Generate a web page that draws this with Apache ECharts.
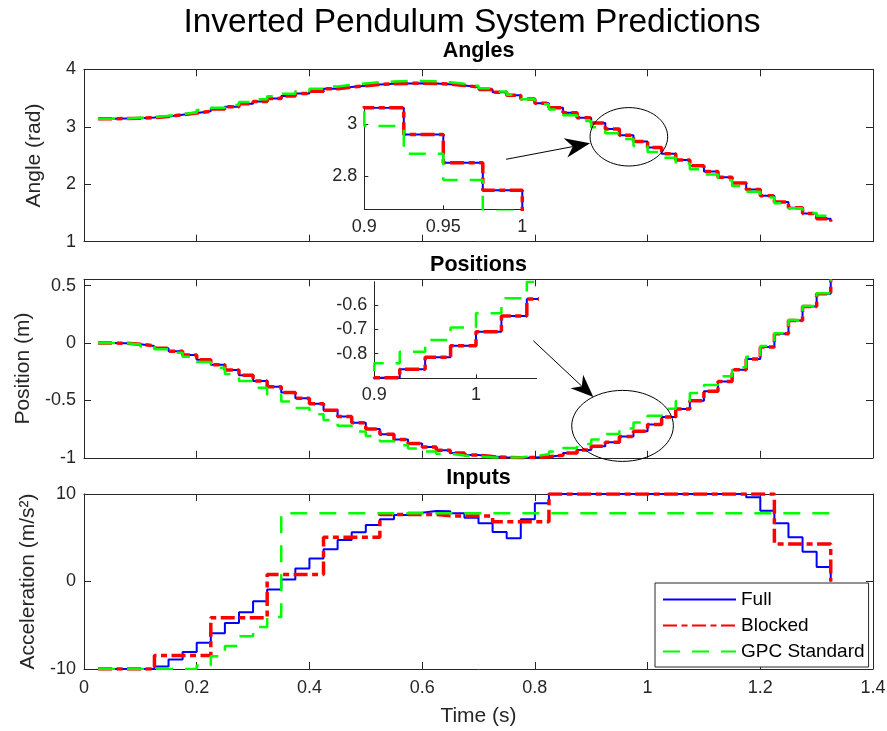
<!DOCTYPE html>
<html>
<head>
<meta charset="utf-8">
<script src="https://cdn.jsdelivr.net/npm/echarts@6/dist/echarts.min.js"></script>
<style>
  html, body { margin: 0; padding: 0; background: #ffffff; }
  #chart { width: 887px; height: 731px; }
</style>
</head>
<body>
<div id="chart"></div>
<script>
// Sample instants of the prediction horizon (s)
const timeSteps = [0.025, 0.05, 0.075, 0.1, 0.125, 0.15, 0.175, 0.2, 0.225, 0.25,
  0.275, 0.3, 0.325, 0.35, 0.375, 0.4, 0.425, 0.45, 0.475, 0.5,
  0.525, 0.55, 0.575, 0.6, 0.625, 0.65, 0.675, 0.7, 0.725, 0.75,
  0.775, 0.8, 0.825, 0.85, 0.875, 0.9, 0.925, 0.95, 0.975, 1.0,
  1.025, 1.05, 1.075, 1.1, 1.125, 1.15, 1.175, 1.2, 1.225, 1.25,
  1.275, 1.3, 1.325];

// Pendulum angle (rad)
const angleFull = [3.14, 3.145, 3.15, 3.16, 3.18, 3.21, 3.24, 3.27, 3.31, 3.35,
  3.40, 3.44, 3.49, 3.535, 3.58, 3.62, 3.66, 3.69, 3.715, 3.735,
  3.748, 3.755, 3.757, 3.752, 3.74, 3.72, 3.69, 3.65, 3.60, 3.55,
  3.485, 3.41, 3.33, 3.245, 3.155, 3.064, 2.961, 2.851, 2.745, 2.64,
  2.53, 2.42, 2.32, 2.22, 2.12, 2.02, 1.91, 1.80, 1.69, 1.59,
  1.49, 1.40, 1.35];
const angleBlocked = [3.14, 3.145, 3.15, 3.16, 3.18, 3.21, 3.24, 3.27, 3.31, 3.35,
  3.40, 3.44, 3.49, 3.535, 3.58, 3.62, 3.66, 3.69, 3.715, 3.735,
  3.748, 3.755, 3.757, 3.752, 3.74, 3.72, 3.69, 3.65, 3.60, 3.55,
  3.485, 3.41, 3.33, 3.245, 3.155, 3.064, 2.961, 2.851, 2.745, 2.64,
  2.53, 2.42, 2.32, 2.22, 2.12, 2.02, 1.91, 1.80, 1.69, 1.59,
  1.49, 1.40, 1.35];
const angleGPC = [3.14, 3.145, 3.155, 3.165, 3.19, 3.22, 3.25, 3.29, 3.33, 3.38,
  3.43, 3.48, 3.53, 3.575, 3.62, 3.66, 3.70, 3.73, 3.755, 3.775,
  3.788, 3.795, 3.795, 3.79, 3.775, 3.75, 3.715, 3.67, 3.615, 3.555,
  3.48, 3.39, 3.30, 3.20, 3.10, 2.993, 2.886, 2.785, 2.665, 2.56,
  2.46, 2.36, 2.26, 2.17, 2.07, 1.97, 1.87, 1.77, 1.67, 1.58,
  1.50, 1.45, 1.47];

// Cart position (m)
const positionFull = [0, -0.002, -0.01, -0.025, -0.045, -0.072, -0.105, -0.145, -0.19, -0.235,
  -0.28, -0.33, -0.38, -0.43, -0.48, -0.53, -0.585, -0.64, -0.695, -0.75,
  -0.795, -0.84, -0.875, -0.905, -0.935, -0.958, -0.976, -0.988, -0.996, -0.999,
  -0.998, -0.99, -0.977, -0.958, -0.932, -0.899, -0.864, -0.815, -0.768, -0.71,
  -0.645, -0.575, -0.503, -0.42, -0.334, -0.233, -0.14, -0.035, 0.081, 0.197,
  0.319, 0.43, 0.55];
const positionBlocked = [0, -0.002, -0.01, -0.025, -0.045, -0.072, -0.105, -0.145, -0.19, -0.235,
  -0.28, -0.33, -0.38, -0.43, -0.48, -0.53, -0.585, -0.64, -0.695, -0.75,
  -0.795, -0.84, -0.875, -0.905, -0.935, -0.958, -0.976, -0.988, -0.996, -0.999,
  -0.998, -0.99, -0.977, -0.958, -0.932, -0.899, -0.864, -0.815, -0.768, -0.71,
  -0.645, -0.575, -0.503, -0.42, -0.334, -0.233, -0.14, -0.035, 0.081, 0.197,
  0.319, 0.43, 0.55];
const positionGPC = [0, -0.002, -0.012, -0.03, -0.055, -0.085, -0.12, -0.165, -0.215, -0.27,
  -0.33, -0.39, -0.45, -0.51, -0.565, -0.62, -0.67, -0.72, -0.77, -0.81,
  -0.855, -0.89, -0.92, -0.945, -0.965, -0.98, -0.99, -0.996, -0.998, -0.995,
  -0.985, -0.968, -0.945, -0.915, -0.88, -0.84, -0.792, -0.744, -0.693, -0.634,
  -0.572, -0.504, -0.435, -0.365, -0.29, -0.21, -0.12, -0.025, 0.085, 0.2,
  0.322, 0.435, 0.555];

// Cart acceleration input (m/s^2)
const inputFull = [-10, -10, -10, -10, -9.7, -8.9, -8.07, -7.0, -5.9, -4.75,
  -3.52, -2.26, -0.92, 0.23, 1.49, 2.64, 3.70, 4.74, 5.62, 6.46,
  7.11, 7.60, 7.87, 8.06, 8.03, 7.8, 7.3, 6.65, 5.65, 4.93,
  7.11, 8.94, 10, 10, 10, 10, 10, 10, 10, 10,
  10, 10, 10, 10, 10, 10, 9.63, 8.1, 6.65, 5.05,
  3.40, 1.67, 0];
const inputBlocked = [-10, -10, -10, -10, -8.45, -8.45, -8.45, -8.45, -4.13, -4.13,
  -4.13, -4.13, 0.8, 0.8, 0.8, 0.8, 5.05, 5.05, 5.05, 5.05,
  7.65, 7.65, 7.65, 7.65, 7.5, 7.5, 7.5, 7.5, 6.84, 6.84,
  6.84, 6.84, 10, 10, 10, 10, 10, 10, 10, 10,
  10, 10, 10, 10, 10, 10, 10, 10, 4.28, 4.28,
  4.28, 4.28, 0];
const inputGPC = [-10, -10, -10, -10, -10, -10, -10, -9.6, -8.53, -7.38,
  -6.27, -5.2, -4.06, 7.8, 7.8, 7.8, 7.8, 7.8, 7.8, 7.8,
  7.8, 7.8, 7.8, 7.8, 7.8, 7.8, 7.8, 7.8, 7.8, 7.8,
  7.8, 7.8, 7.8, 7.8, 7.8, 7.8, 7.8, 7.8, 7.8, 7.8,
  7.8, 7.8, 7.8, 7.8, 7.8, 7.8, 7.8, 7.8, 7.8, 7.8,
  7.8, 7.8, 7.8];

// Tick labels
const timeTicks = [0, 0.2, 0.4, 0.6, 0.8, 1, 1.2, 1.4];
const angleTicks = [1, 2, 3, 4];
const positionTicks = [-1, -0.5, 0, 0.5];
const inputTicks = [-10, 0, 10];
const angleZoomTimeTicks = [0.9, 0.95, 1];
const angleZoomTicks = [2.8, 3];
const positionZoomTimeTicks = [0.9, 1];
const positionZoomTicks = [-0.8, -0.7, -0.6];

const FONT = '"Liberation Sans", Arial, Helvetica, sans-serif';
const AX = '#262626';

const lineLook = {
  'Full':         { color: '#0000ff', width: 2,   type: 'solid',            z: 2 },
  'Blocked':      { color: '#ff0000', width: 3.5, type: [14, 4.5, 6, 4.5],  z: 3 },
  'GPC Standard': { color: '#00ff00', width: 2.5, type: [17, 12],           z: 4 }
};

function stairs(name, values, xIdx, yIdx) {
  const s = lineLook[name];
  return {
    type: 'line', name: name, step: 'end',
    xAxisIndex: xIdx, yAxisIndex: yIdx,
    data: timeSteps.map((t, i) => [t, values[i]]),
    symbol: 'none', showSymbol: false, clip: true, animation: false,
    z: s.z,
    lineStyle: { color: s.color, width: s.width, type: s.type, cap: 'butt' },
    itemStyle: { color: s.color }
  };
}

function axis(gridIndex, position, min, max, ticks, o) {
  o = o || {};
  const a = {
    type: 'value', gridIndex: gridIndex, position: position, min: min, max: max,
    axisLine: { show: true, onZero: false, lineStyle: { color: AX, width: 1 } },
    axisTick: { show: true, inside: true, length: o.tickLen || 7, customValues: ticks,
                lineStyle: { color: AX, width: 1 } },
    axisLabel: { show: !!o.labels, customValues: ticks, color: AX, fontSize: 18,
                 fontFamily: FONT, margin: o.margin || 8 },
    splitLine: { show: false }
  };
  if (o.name) {
    a.name = o.name;
    a.nameLocation = 'middle';
    a.nameGap = o.nameGap;
    a.nameTextStyle = { fontSize: 21, color: AX, fontFamily: FONT };
  }
  return a;
}

const chart = echarts.init(document.getElementById('chart'), null, { renderer: 'canvas' });

const option = {
  backgroundColor: '#ffffff',
  animation: false,
  grid: [
    { left: 84, right: 14, top: 69.3, height: 172.4, outerBoundsMode: 'none' },
    { left: 84, right: 14, top: 279.3, height: 178.5, outerBoundsMode: 'none' },
    { left: 84, right: 14, top: 494, height: 175, outerBoundsMode: 'none' },
    { left: 364.3, width: 158, top: 107.7, height: 101.6, outerBoundsMode: 'none' },
    { left: 374.3, width: 162.4, top: 281.7, height: 96.6, outerBoundsMode: 'none' }
  ],
  xAxis: [
    axis(0, 'bottom', 0, 1.4, timeTicks),
    axis(0, 'top', 0, 1.4, timeTicks),
    axis(1, 'bottom', 0, 1.4, timeTicks),
    axis(1, 'top', 0, 1.4, timeTicks),
    axis(2, 'bottom', 0, 1.4, timeTicks, { labels: true, margin: 10, name: 'Time (s)', nameGap: 37 }),
    axis(2, 'top', 0, 1.4, timeTicks),
    axis(3, 'bottom', 0.9, 1.0, angleZoomTimeTicks, { labels: true, tickLen: 4, margin: 9 }),
    axis(4, 'bottom', 0.9, 1.0597, positionZoomTimeTicks, { labels: true, tickLen: 4, margin: 8 })
  ],
  yAxis: [
    axis(0, 'left', 1, 4, angleTicks, { labels: true, margin: 8, name: 'Angle (rad)', nameGap: 39 }),
    axis(0, 'right', 1, 4, angleTicks),
    axis(1, 'left', -1, 0.5556, positionTicks, { labels: true, margin: 8, name: 'Position (m)', nameGap: 39 }),
    axis(1, 'right', -1, 0.5556, positionTicks),
    axis(2, 'left', -10, 10, inputTicks, { labels: true, margin: 8, name: 'Acceleration (m/s²)', nameGap: 39 }),
    axis(2, 'right', -10, 10, inputTicks),
    axis(3, 'left', 2.6712, 3.0642, angleZoomTicks, { labels: true, tickLen: 4, margin: 7 }),
    axis(4, 'left', -0.9016, -0.5041, positionZoomTicks, { labels: true, tickLen: 4, margin: 7 })
  ],
  legend: {
    data: ['Full', 'Blocked', 'GPC Standard'],
    orient: 'vertical', left: 655, top: 583,
    backgroundColor: '#ffffff', borderColor: AX, borderWidth: 1, borderRadius: 0,
    padding: [7, 4, 6, 7], itemGap: 7, itemWidth: 73, itemHeight: 14,
    selectedMode: false,
    itemStyle: { opacity: 0 },
    textStyle: { fontSize: 19, color: '#000000', fontFamily: FONT },
    z: 20
  },
  series: [
    stairs('Full', angleFull, 0, 0),
    stairs('Blocked', angleBlocked, 0, 0),
    stairs('GPC Standard', angleGPC, 0, 0),
    stairs('Full', positionFull, 2, 2),
    stairs('Blocked', positionBlocked, 2, 2),
    stairs('GPC Standard', positionGPC, 2, 2),
    stairs('Full', inputFull, 4, 4),
    stairs('Blocked', inputBlocked, 4, 4),
    stairs('GPC Standard', inputGPC, 4, 4),
    stairs('Full', angleFull, 6, 6),
    stairs('Blocked', angleBlocked, 6, 6),
    stairs('GPC Standard', angleGPC, 6, 6),
    stairs('Full', positionFull, 7, 7),
    stairs('Blocked', positionBlocked, 7, 7),
    stairs('GPC Standard', positionGPC, 7, 7)
  ]
};

chart.setOption(option);

// Callouts: circled region and the arrow pointing at it, in data units of each panel
const angleCallout = { series: 0, from: [0.749, 2.434], to: [0.898, 2.712], center: [0.9668, 2.8255],
                       rx: 38.8, ry: 29.2, headLen: 25, headHalf: 9.8 };
const positionCallout = { series: 3, from: [0.7973, 0.02], to: [0.9038, -0.470], center: [0.9556, -0.722],
                          rx: 50.8, ry: 35.5, headLen: 22.6, headHalf: 9.2 };

function calloutElements(c) {
  const p0 = chart.convertToPixel({ seriesIndex: c.series }, c.from);
  const p1 = chart.convertToPixel({ seriesIndex: c.series }, c.to);
  const pc = chart.convertToPixel({ seriesIndex: c.series }, c.center);
  const dx = p1[0] - p0[0], dy = p1[1] - p0[1];
  const d = Math.hypot(dx, dy), ux = dx / d, uy = dy / d, nx = -uy, ny = ux;
  const bx = p1[0] - ux * c.headLen, by = p1[1] - uy * c.headLen;
  const notch = [p1[0] - ux * c.headLen * 0.7, p1[1] - uy * c.headLen * 0.7];
  return [
    { type: 'ellipse', z: 100, shape: { cx: pc[0], cy: pc[1], rx: c.rx, ry: c.ry },
      style: { fill: 'none', stroke: '#000000', lineWidth: 1 } },
    { type: 'line', z: 100, shape: { x1: p0[0], y1: p0[1], x2: notch[0], y2: notch[1] },
      style: { stroke: '#000000', lineWidth: 1 } },
    { type: 'polygon', z: 100,
      shape: { points: [p1, [bx + nx * c.headHalf, by + ny * c.headHalf], notch,
                        [bx - nx * c.headHalf, by - ny * c.headHalf]] },
      style: { fill: '#000000' } }
  ];
}

function heading(text, x, y, size, weight) {
  return { type: 'text', z: 100, x: x, y: y,
           style: { text: text, fill: '#000000', align: 'center', verticalAlign: 'middle',
                    font: weight + ' ' + size + 'px ' + FONT } };
}

chart.setOption({
  graphic: {
    elements: [
      heading('Inverted Pendulum System Predictions', 472, 23, 33.5, 'normal'),
      heading('Angles', 478.5, 51, 21.5, 'bold'),
      heading('Positions', 478.5, 265, 21.5, 'bold'),
      heading('Inputs', 478.5, 478, 21.5, 'bold')
    ].concat(calloutElements(angleCallout), calloutElements(positionCallout))
  }
});
</script>
</body>
</html>
